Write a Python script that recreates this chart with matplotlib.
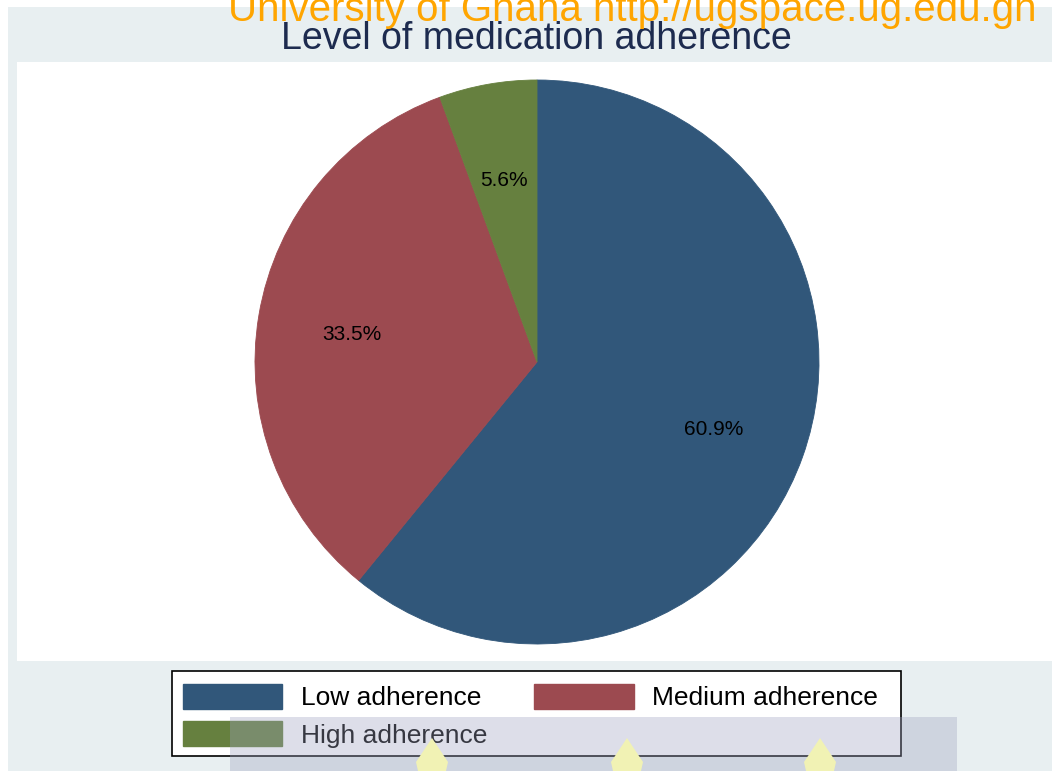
import matplotlib
matplotlib.use('agg')
from matplotlib import pyplot as plt
from matplotlib import patches as pltpatches


categories = ['Low adherence', 'Medium adherence', 'High adherence']
shares = [60.9, 33.5, 5.6]
colors = ['#31577a', '#9c4a50', '#66803f']

title = 'Level of medication adherence'
watermark = 'University of Ghana http://ugspace.ug.edu.gh'

W, H = 1052, 771
plt.rcParams['font.family'] = ['Liberation Sans', 'DejaVu Sans']


def fx(x):
    return x / W


def fy(y):
    return 1 - y / H


def add_rect(fig, x0, y0, x1, y1, **kw):
    # rectangle given in pixel coords (origin top-left)
    r = pltpatches.Rectangle((fx(x0), fy(y1)), fx(x1) - fx(x0), fy(y0) - fy(y1),
                             transform=fig.transFigure, **kw)
    fig.add_artist(r)
    return r


fig = plt.figure(figsize=(W / 100, H / 100), dpi=100, facecolor='white')

# graph region and plot region
add_rect(fig, 8, 7, W, H, facecolor='#e8eff1', edgecolor='none', zorder=-3)
add_rect(fig, 17, 62, W, 661, facecolor='white', edgecolor='none', zorder=-2)

# pie
cx, cy, r = 537, 362, 282
ax = fig.add_axes([fx(cx - r), fy(cy + r), fx(2 * r), (2 * r) / H])
wedges, _, autotexts = ax.pie(shares, colors=colors, startangle=90, counterclock=False,
                              autopct='%1.1f%%', pctdistance=0.667,
                              wedgeprops=dict(linewidth=0.6),
                              textprops=dict(fontsize=15, color='black'))
for w, c in zip(wedges, colors):
    w.set_edgecolor(c)
for t in autotexts:
    x, y = t.get_position()
    t.set_position((x, y - 0.014))
ax.set_xlim(-1, 1)
ax.set_ylim(-1, 1)
ax.set_aspect('equal')
ax.axis('off')

fig.text(fx(536), fy(39), title, ha='center', va='center', fontsize=27, color='#1d2b4f')
fig.text(fx(228), fy(21), watermark, ha='left', va='baseline', fontsize=29,
         color='#ffa500', zorder=4)

# legend box drawn by hand so its padding matches the Stata one
add_rect(fig, 172, 671, 901, 756, facecolor='white', edgecolor='black',
         linewidth=1.2, zorder=4)
handles = [pltpatches.Patch(facecolor=colors[i], edgecolor=colors[i], label=categories[i])
           for i in (0, 2, 1)]
leg = fig.legend(handles=handles, ncol=2, loc='upper left',
                 bbox_to_anchor=(fx(172), fy(673)), borderaxespad=0,
                 fontsize=19, frameon=False,
                 handlelength=3.77, handleheight=1.08, handletextpad=0.7,
                 columnspacing=1.8, labelspacing=0.42, borderpad=0.4)
leg.set_zorder(5)

# scanned overlay at the bottom of the page
add_rect(fig, 230, 717, 957, H, facecolor='#9fa3c0', edgecolor='none', alpha=0.35, zorder=6)
for bx in (432, 627, 820):
    blob = pltpatches.Polygon([(fx(bx), fy(738)), (fx(bx + 16), fy(762)), (fx(bx + 14), fy(H)),
                               (fx(bx - 14), fy(H)), (fx(bx - 16), fy(762))],
                              closed=True, transform=fig.transFigure,
                              facecolor='#f1f2b4', edgecolor='none', zorder=7)
    fig.add_artist(blob)

fig.savefig('out.png', dpi=100, facecolor=fig.get_facecolor())
